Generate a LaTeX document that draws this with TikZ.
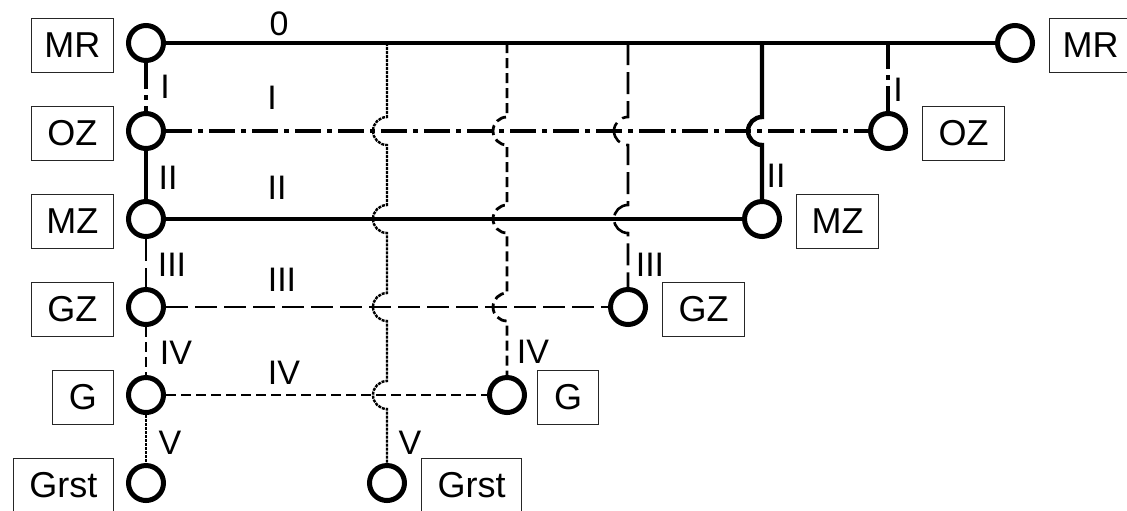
\documentclass[tikz,border=0pt]{standalone}
\usepackage{fontspec}
\setmainfont{Liberation Sans}
\usetikzlibrary{positioning}

\begin{document}
\begin{tikzpicture}[x=0.5pt,y=-0.5pt,
  stn/.style={circle, draw, line width=2.5pt, minimum size=17.5pt, inner sep=0pt, fill=white},
  tag/.style={draw=black!85, line width=0.7pt, minimum width=41pt, minimum height=27pt, inner sep=0pt, font=\fontsize{18}{20}\selectfont, yshift=-1.2pt},
  num/.style={font=\fontsize{17}{19}\selectfont, inner sep=0pt},
  line0/.style={line width=2.2pt},
  lineI/.style={line width=2.2pt, dash pattern=on 13pt off 3pt on 2.5pt off 3pt},
  lineII/.style={line width=2.2pt},
  lineIII/.style={line width=1.3pt, dash pattern=on 11pt off 3.5pt},
  lineIV/.style={line width=1.4pt, dash pattern=on 5pt off 2.5pt},
  lineV/.style={line width=1.2pt, dash pattern=on 1.5pt off 0.5pt},
  hop/.style={insert path={-- ([yshift=7pt]#1) arc[start angle=90, end angle=270, radius=7pt]}},
  node distance=7pt]
\useasboundingbox (0,0) rectangle (1127,510);
% stations, left column
\node (mrL) at (146,43) [stn]{};
\node (ozL) at (146,131) [stn]{};
\node (mzL) at (146,219) [stn]{};
\node (gzL) at (146,307) [stn]{};
\node (gL) at (146,395) [stn]{};
\node (grstL) at (146,483) [stn]{};
% stations, right ends
\node (mrR) at (1015,43) [stn]{};
\node (ozR) at (888,131) [stn]{};
\node (mzR) at (762,219) [stn]{};
\node (gzR) at (628,307) [stn]{};
\node (gR) at (507,395) [stn]{};
\node (grstR) at (387,483) [stn]{};
% names
\node (mrLt) [tag, left=6pt of mrL]{MR};
\node (ozLt) [tag, left=6pt of ozL]{OZ};
\node (mzLt) [tag, left=6pt of mzL]{MZ};
\node (gzLt) [tag, left=6pt of gzL]{GZ};
\node (gLt) [tag, minimum width=30.5pt, left=6pt of gL]{G};
\node (grstLt) [tag, minimum width=50pt, left=6pt of grstL]{Grst};
\node (mrRt) [tag, right=of mrR]{MR};
\node (ozRt) [tag, right=of ozR]{OZ};
\node (mzRt) [tag, right=of mzR]{MZ};
\node (gzRt) [tag, right=of gzR]{GZ};
\node (gRt) [tag, minimum width=30.5pt, right=5pt of gR]{G};
\node (grstRt) [tag, minimum width=50pt, right=of grstR]{Grst};
% rows
\draw[line0] (mrL) -- (mrR);
\draw[lineI] (ozL) -- (ozR);
\draw[lineII] (mzL) -- (mzR);
\draw[lineIII] (gzL) -- (gzR);
\draw[lineIV] (gL) -- (gR);
% left column
\draw[lineI] (mrL) -- (ozL);
\draw[lineII] (ozL) -- (mzL);
\draw[lineIII] (mzL) -- (gzL);
\draw[lineIV] (gzL) -- (gL);
\draw[lineV] (gL) -- (grstL);
% branches off the MR line
\draw[lineI] (mrL -| ozR) -- (ozR);
\draw[lineII] (mrL -| mzR) [hop={mzR |- ozL}] -- (mzR);
\draw[lineIII] (mrL -| gzR) [hop={gzR |- ozL}] [hop={gzR |- mzL}] -- (gzR);
\draw[lineIV] (mrL -| gR) [hop={gR |- ozL}] [hop={gR |- mzL}] [hop={gR |- gzL}] -- (gR);
\draw[lineV] (mrL -| grstR) [hop={grstR |- ozL}] [hop={grstR |- mzL}] [hop={grstR |- gzL}] [hop={grstR |- gL}] -- (grstR);
% labels
\node (n0) at (279,24) [num]{0};
\node (nIa) at (165,87) [num]{I};
\node (nIIa) at (168,178) [num]{II};
\node (nIIIa) at (172,265) [num]{III};
\node (nIVa) at (176,353) [num]{IV};
\node (nVa) at (170,443) [num]{V};
\node (nIb) at (272,98) [num]{I};
\node (nIIb) at (277,188) [num]{II};
\node (nIIIb) at (282,280) [num]{III};
\node (nIVb) at (284,373) [num]{IV};
\node (nIc) at (898,90) [num]{I};
\node (nIIc) at (776,176) [num]{II};
\node (nIIIc) at (650,265) [num]{III};
\node (nIVc) at (533,352) [num]{IV};
\node (nVc) at (410,443) [num]{V};
\end{tikzpicture}
\end{document}
